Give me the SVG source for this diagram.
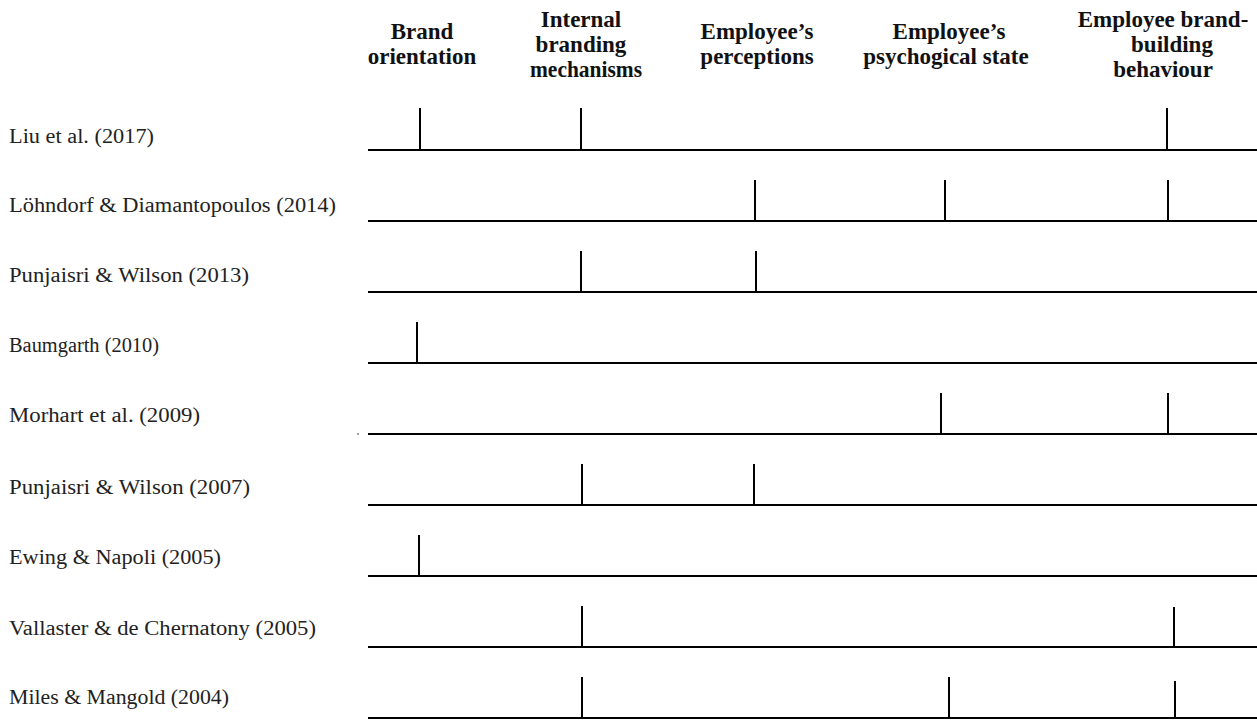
<svg xmlns="http://www.w3.org/2000/svg" width="1257" height="720" viewBox="0 0 1257 720">
<style>
.lbl{font-family:"Liberation Serif",serif;font-size:20px;fill:#222}
.hdr{font-family:"Liberation Serif",serif;font-size:23px;font-weight:bold;fill:#111;text-anchor:middle}
.ln{stroke:#000;stroke-width:2;fill:none}
</style>
<rect width="1257" height="720" fill="#fff"/>
<g id="headers">
<g id="h-brand-orientation"><text class="hdr" x="422" y="39">Brand</text><text class="hdr" x="422" y="64">orientation</text></g>
<g id="h-internal-branding"><text class="hdr" x="581" y="27">Internal</text><text class="hdr" x="581" y="52">branding</text><text class="hdr" x="586" y="77" textLength="112" lengthAdjust="spacingAndGlyphs">mechanisms</text></g>
<g id="h-perceptions"><text class="hdr" x="757" y="39">Employee’s</text><text class="hdr" x="757" y="64">perceptions</text></g>
<g id="h-psych"><text class="hdr" x="949" y="39">Employee’s</text><text class="hdr" x="946" y="64">psychogical state</text></g>
<g id="h-behaviour"><text class="hdr" x="1163" y="27">Employee brand-</text><text class="hdr" x="1172" y="52">building</text><text class="hdr" x="1163" y="77">behaviour</text></g>
</g>
<g id="row-liu"><text class="lbl" x="9" y="143" textLength="145" lengthAdjust="spacingAndGlyphs">Liu et al. (2017)</text></g>
<g id="row-lohndorf"><text class="lbl" x="9" y="212" textLength="327" lengthAdjust="spacingAndGlyphs">Löhndorf &amp; Diamantopoulos (2014)</text></g>
<g id="row-punjaisri2013"><text class="lbl" x="9" y="282" textLength="240" lengthAdjust="spacingAndGlyphs">Punjaisri &amp; Wilson (2013)</text></g>
<g id="row-baumgarth"><text class="lbl" x="9" y="352" textLength="150" lengthAdjust="spacingAndGlyphs">Baumgarth (2010)</text></g>
<g id="row-morhart"><text class="lbl" x="9" y="422" textLength="191" lengthAdjust="spacingAndGlyphs">Morhart et al. (2009)</text></g>
<g id="row-punjaisri2007"><text class="lbl" x="9" y="494" textLength="241" lengthAdjust="spacingAndGlyphs">Punjaisri &amp; Wilson (2007)</text></g>
<g id="row-ewing"><text class="lbl" x="9" y="564" textLength="212" lengthAdjust="spacingAndGlyphs">Ewing &amp; Napoli (2005)</text></g>
<g id="row-vallaster"><text class="lbl" x="9" y="635" textLength="307" lengthAdjust="spacingAndGlyphs">Vallaster &amp; de Chernatony (2005)</text></g>
<g id="row-miles"><text class="lbl" x="9" y="704" textLength="220" lengthAdjust="spacingAndGlyphs">Miles &amp; Mangold (2004)</text></g>
<g id="connectors" class="ln">
<path d="M368 150H1257M420 108V150M581 108V150M1167 108V150"/>
<path d="M368 221H1257M755 180V221M945 180V221M1168 180V221"/>
<path d="M368 292H1257M581 251V292M756 251V292"/>
<path d="M368 363H1257M417 322V363"/>
<path d="M368 434H1257M941 393V434M1168 393V434"/>
<path d="M368 505H1257M582 464V505M754 464V505"/>
<path d="M368 576H1257M419 535V576"/>
<path d="M368 647H1257M582 606V647M1174 607V647"/>
<path d="M368 718H1257M582 677V718M949 677V718M1175 681V718"/>
</g>
<rect x="357.5" y="433" width="1" height="2" fill="#444"/>
</svg>
